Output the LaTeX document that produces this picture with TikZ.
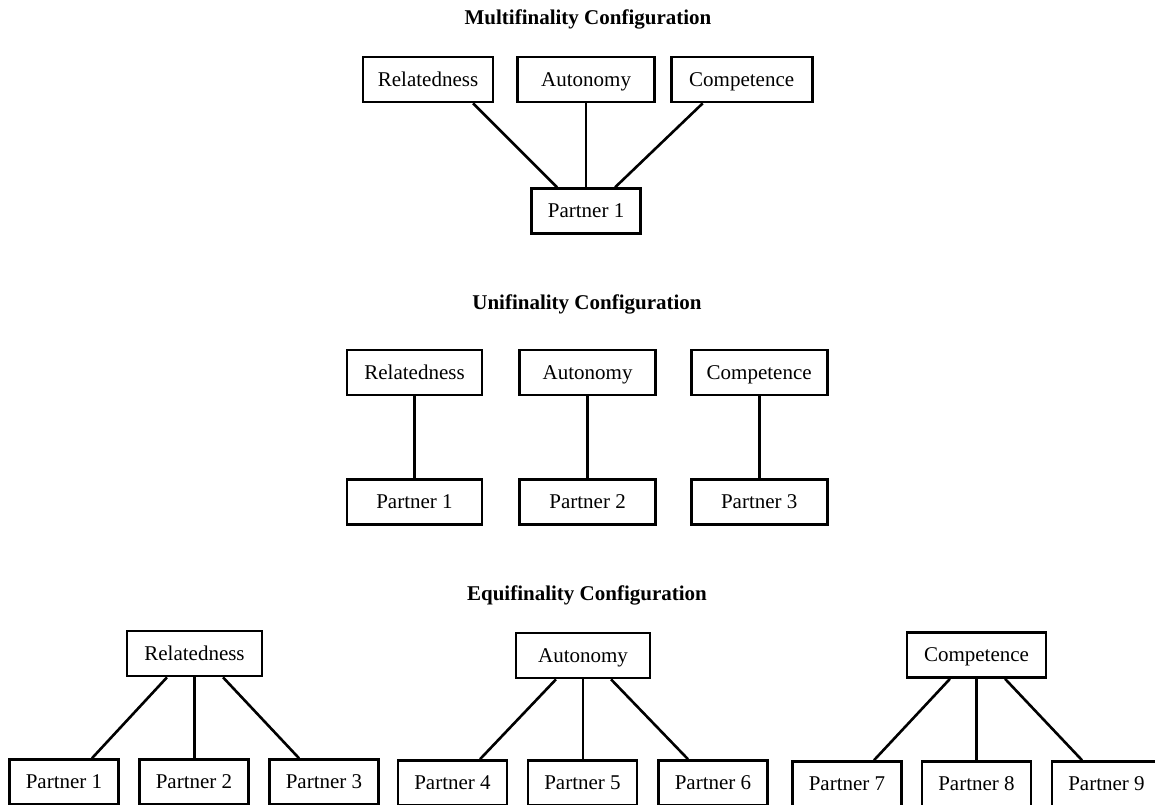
\documentclass[tikz,border=0pt]{standalone}
\usepackage{fontspec}
\setmainfont{Liberation Serif}
\begin{document}
\begin{tikzpicture}[x=0.5pt,y=-0.5pt]
\useasboundingbox (0,0) rectangle (1155,804);

\tikzstyle{titlenode} = [anchor=base,inner sep=0pt,font=\fontsize{10.5}{12}\selectfont\bfseries];
\tikzstyle{needbox} = [draw,line width=1.3pt,minimum height=22.5pt,inner sep=0pt,text height=7pt,text depth=0.5pt,font=\fontsize{10.5}{12}\selectfont];
\tikzstyle{partnerbox} = [needbox,minimum width=54.5pt];
\tikzstyle{link} = [line width=1.3pt];

\begin{scope}

\node [titlenode] (mtitle) at (588,24) {Multifinality Configuration};

\node [needbox,minimum width=65pt] (mrel) at (428,79.5) {Relatedness};
\node [needbox,minimum width=68.5pt,anchor=west] (maut) at ([xshift=11pt]mrel.east) {Autonomy};
\node [needbox,minimum width=70.5pt,anchor=west] (mcomp) at ([xshift=7pt]maut.east) {Competence};
\node [partnerbox,anchor=north] (mpart) at ([yshift=-42pt]maut.south) {Partner 1};

\draw [link] ([xshift=22.5pt]mrel.south) -- ([xshift=-14.5pt]mpart.north);
\draw [link] (maut.south) -- (mpart.north);
\draw [link] ([xshift=-19.5pt]mcomp.south) -- ([xshift=14.5pt]mpart.north);

\end{scope}

\begin{scope}

\node [titlenode] (utitle) at (587,309) {Unifinality Configuration};

\node [needbox,minimum width=67.5pt] (urel) at (414.5,372.5) {Relatedness};
\node [needbox,minimum width=68pt,anchor=west] (uaut) at ([xshift=17.5pt]urel.east) {Autonomy};
\node [needbox,minimum width=68pt,anchor=west] (ucomp) at ([xshift=16.5pt]uaut.east) {Competence};
\node [needbox,minimum width=67.5pt,anchor=north] (upart1) at ([yshift=-41pt]urel.south) {Partner 1};
\node [needbox,minimum width=68pt,anchor=north] (upart2) at ([yshift=-41pt]uaut.south) {Partner 2};
\node [needbox,minimum width=68pt,anchor=north] (upart3) at ([yshift=-41pt]ucomp.south) {Partner 3};

\draw [link] (urel.south) -- (upart1.north);
\draw [link] (uaut.south) -- (upart2.north);
\draw [link] (ucomp.south) -- (upart3.north);

\end{scope}

\begin{scope}

\node [titlenode] (etitle) at (587,600) {Equifinality Configuration};

\node [needbox,minimum width=67.5pt] (erel) at (194.5,653.5) {Relatedness};
\node [needbox,minimum width=67pt] (eaut) at (583,655.5) {Autonomy};
\node [needbox,minimum width=69.5pt] (ecomp) at (976.5,655) {Competence};

\node [partnerbox] (epart1) at (64,782) {Partner 1};
\node [partnerbox] (epart2) at (194,782) {Partner 2};
\node [partnerbox] (epart3) at (324,782) {Partner 3};
\node [partnerbox] (epart4) at (452.5,783) {Partner 4};
\node [partnerbox] (epart5) at (582.5,783) {Partner 5};
\node [partnerbox] (epart6) at (713,783) {Partner 6};
\node [partnerbox] (epart7) at (847,784) {Partner 7};
\node [partnerbox] (epart8) at (976.5,784) {Partner 8};
\node [partnerbox] (epart9) at (1106.5,784) {Partner 9};

\draw [link] ([xshift=-13.75pt]erel.south) -- ([xshift=14pt]epart1.north);
\draw [link] (erel.south) -- (erel.south |- epart2.north);
\draw [link] ([xshift=14.25pt]erel.south) -- ([xshift=-12.5pt]epart3.north);

\draw [link] ([xshift=-13.5pt]eaut.south) -- ([xshift=13.75pt]epart4.north);
\draw [link] (eaut.south) -- (eaut.south |- epart5.north);
\draw [link] ([xshift=14pt]eaut.south) -- ([xshift=-12.5pt]epart6.north);

\draw [link] ([xshift=-13.25pt]ecomp.south) -- ([xshift=13.5pt]epart7.north);
\draw [link] (ecomp.south) -- (epart8.north);
\draw [link] ([xshift=14.25pt]ecomp.south) -- ([xshift=-12.25pt]epart9.north);

\end{scope}

\end{tikzpicture}
\end{document}
